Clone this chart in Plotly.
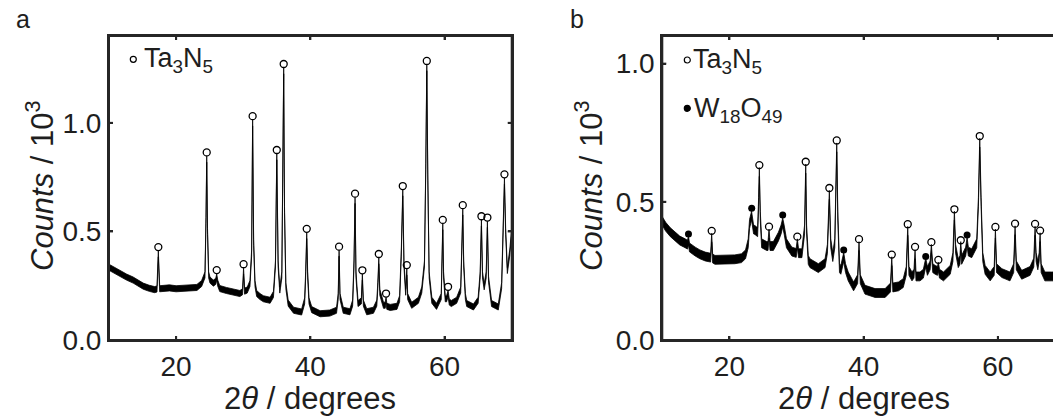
import plotly.graph_objects as go

# ---------------- data ----------------
two_theta_a = [10.0, 10.8, 11.6, 12.6, 13.6, 14.4, 15.1, 16.0, 16.8, 17.15, 17.35, 17.55, 18.1, 19.0, 20.0, 21.0,
               22.0, 23.1, 23.8, 24.3, 24.45, 24.56, 24.68, 24.85, 25.05, 25.55, 25.9, 26.05, 26.2, 26.5, 27.5,
               28.5, 29.5, 29.9, 30.05, 30.2, 30.6, 31.0, 31.25, 31.4, 31.55, 31.75, 32.0, 32.5, 33.0, 34.0,
               34.5, 34.8, 35.0, 35.2, 35.45, 35.75, 35.9, 36.03, 36.15, 36.35, 36.7, 37.5, 38.7, 39.15, 39.3,
               39.46, 39.6, 39.8, 40.2, 41.45, 42.9, 43.9, 44.15, 44.28, 44.42, 44.9, 45.9, 46.3, 46.5, 46.66,
               46.8, 47.1, 47.6, 47.75, 47.9, 48.4, 49.4, 49.9, 50.05, 50.2, 50.35, 50.9, 51.15, 51.28, 51.4,
               51.9, 52.9, 53.3, 53.55, 53.77, 53.95, 54.2, 54.37, 54.5, 55.1, 56.1, 56.6, 57.0, 57.2, 57.35,
               57.5, 57.7, 58.1, 58.8, 59.5, 59.6, 59.73, 59.85, 60.1, 60.3, 60.52, 60.7, 61.0, 61.8, 62.4,
               62.55, 62.71, 62.85, 63.1, 63.3, 64.3, 65.0, 65.3, 65.49, 65.65, 65.9, 66.2, 66.38, 66.55, 67.0,
               68.0, 68.5, 68.75, 68.92, 69.1, 69.35, 69.7, 70.0]
counts_a = [0.335, 0.32, 0.307, 0.29, 0.276, 0.26, 0.248, 0.238, 0.232, 0.235, 0.397, 0.236, 0.237, 0.24, 0.236,
            0.238, 0.24, 0.242, 0.26, 0.3, 0.55, 0.833, 0.5, 0.3, 0.276, 0.262, 0.27, 0.29, 0.262, 0.237, 0.228,
            0.221, 0.214, 0.222, 0.318, 0.225, 0.23, 0.26, 0.4, 1.0, 0.45, 0.26, 0.214, 0.2, 0.19, 0.183,
            0.21, 0.35, 0.844, 0.35, 0.23, 0.3, 0.7, 1.24, 0.6, 0.25, 0.17, 0.137, 0.129, 0.18, 0.3,
            0.481, 0.3, 0.18, 0.14, 0.121, 0.124, 0.137, 0.2, 0.40, 0.2, 0.137, 0.13, 0.17, 0.35, 0.643,
            0.3, 0.168, 0.18, 0.29, 0.17, 0.13, 0.137, 0.17, 0.25, 0.365, 0.22, 0.16, 0.16, 0.183, 0.155,
            0.15, 0.155, 0.19, 0.4, 0.678, 0.35, 0.22, 0.314, 0.2, 0.16, 0.183, 0.23, 0.35, 0.8, 1.254,
            0.75, 0.3, 0.183, 0.155, 0.2, 0.35, 0.522, 0.3, 0.19, 0.19, 0.214, 0.175, 0.168, 0.183, 0.23,
            0.4, 0.59, 0.35, 0.2, 0.168, 0.152, 0.183, 0.3, 0.539, 0.3, 0.245, 0.3, 0.533, 0.28, 0.168,
            0.152, 0.25, 0.5, 0.732, 0.5, 0.32, 0.4, 0.5]

two_theta_b = [10.0, 10.5, 11.2, 11.9, 12.6, 13.4, 13.75, 13.9, 14.05, 14.9, 15.6, 16.4, 17.2, 17.36, 17.5, 17.85,
               18.8, 19.8, 20.8, 21.8, 22.4, 22.8, 23.0, 23.3, 23.6, 23.8, 24.2, 24.35, 24.46, 24.6, 24.8, 25.55,
               25.75, 25.9, 26.05, 26.55, 27.3, 27.7, 27.94, 28.15, 28.5, 29.3, 29.95, 30.12, 30.3, 30.8, 31.2,
               31.37, 31.5, 31.75, 32.0, 33.25, 34.25, 34.6, 34.89, 35.1, 35.4, 35.7, 35.85, 35.99, 36.15, 36.4,
               36.6, 37.03, 37.3, 37.7, 38.5, 39.1, 39.31, 39.5, 40.2, 41.7, 43.2, 44.0, 44.19, 44.35, 45.2,
               45.9, 46.35, 46.57, 46.75, 47.2, 47.5, 47.66, 47.8, 48.4, 48.9, 49.25, 49.5, 49.9, 50.09, 50.3,
               50.65, 51.0, 51.13, 51.3, 51.9, 52.9, 53.3, 53.52, 53.7, 54.1, 54.35, 54.47, 54.6, 54.85, 55.2,
               55.41, 55.6, 56.1, 56.85, 57.1, 57.3, 57.5, 57.75, 58.1, 58.85, 59.45, 59.63, 59.8, 60.6, 61.8,
               62.35, 62.56, 62.75, 63.55, 64.8, 65.35, 65.54, 65.7, 65.95, 66.15, 66.29, 66.45, 67.0, 68.0, 70.0]
counts_b = [0.43, 0.41, 0.39, 0.374, 0.36, 0.35, 0.345, 0.36, 0.335, 0.32, 0.31, 0.302, 0.298, 0.37, 0.295, 0.29,
            0.29, 0.29, 0.292, 0.296, 0.31, 0.35, 0.42, 0.45, 0.4, 0.398, 0.39, 0.5, 0.608, 0.45, 0.35, 0.34,
            0.34, 0.385, 0.34, 0.34, 0.374, 0.4, 0.425, 0.4, 0.35, 0.32, 0.315, 0.35, 0.314, 0.314, 0.4,
            0.62, 0.4, 0.29, 0.278, 0.26, 0.278, 0.33, 0.525, 0.35, 0.3, 0.35, 0.55, 0.697, 0.45, 0.26,
            0.254, 0.30, 0.26, 0.23, 0.194, 0.22, 0.34, 0.22, 0.182, 0.17, 0.17, 0.19, 0.285, 0.19, 0.194,
            0.206, 0.25, 0.395, 0.25, 0.23, 0.24, 0.31, 0.23, 0.23, 0.24, 0.28, 0.25, 0.27, 0.33, 0.26,
            0.254, 0.25, 0.265, 0.24, 0.23, 0.254, 0.3, 0.45, 0.33, 0.278, 0.29, 0.34, 0.29, 0.302, 0.32,
            0.355, 0.32, 0.314, 0.35, 0.5, 0.714, 0.5, 0.3, 0.254, 0.23, 0.25, 0.385, 0.26, 0.242, 0.23,
            0.26, 0.397, 0.27, 0.236, 0.25, 0.28, 0.395, 0.3, 0.27, 0.3, 0.372, 0.26, 0.23, 0.23, 0.23]

ta3n5_a_x = [17.35, 24.56, 26.05, 30.05, 31.4, 35.0, 36.03, 39.46, 44.28, 46.66, 47.75, 50.2, 51.28, 53.77,
             54.37, 57.35, 59.73, 60.52, 62.71, 65.49, 66.38, 68.92]
ta3n5_a_y = [0.428, 0.864, 0.322, 0.349, 1.031, 0.875, 1.271, 0.512, 0.43, 0.674, 0.321, 0.396, 0.214, 0.709,
             0.345, 1.285, 0.553, 0.245, 0.621, 0.57, 0.564, 0.763]

ta3n5_b_x = [17.36, 24.46, 25.9, 30.12, 31.37, 34.89, 35.99, 39.31, 44.19, 46.57, 47.66, 50.09, 51.13, 53.52,
             54.47, 57.3, 59.63, 62.56, 65.54, 66.29]
ta3n5_b_y = [0.395, 0.633, 0.41, 0.374, 0.645, 0.55, 0.722, 0.365, 0.309, 0.419, 0.337, 0.354, 0.29, 0.473,
             0.361, 0.738, 0.409, 0.421, 0.42, 0.396]

w18o49_b_x = [13.9, 23.32, 27.94, 37.03, 49.25, 55.41]
w18o49_b_y = [0.384, 0.477, 0.452, 0.326, 0.302, 0.38]

x_ticks = [20, 40, 60]
y_ticks = [0.0, 0.5, 1.0]
y_tick_text = ["0.0", "0.5", "1.0"]

# ---------------- layout constants ----------------
W, H = 1053, 418
TOP, BOT = 36, 340          # plot area in pixels
FONT = "Arial, Liberation Sans, sans-serif"
TXT = "#1e1e1e"
AX = "#262626"
TICK_SIZE = 28
TITLE_SIZE = 31
LEG_SIZE = 27


def pxx(px):
    return px / W


def pxy(py):
    return (BOT - py) / (BOT - TOP)


fig = go.Figure()


def add_pattern(x, y, half, xa, ya):
    lower = [v - half for v in y]
    upper = [v + half for v in y]
    fig.add_trace(go.Scatter(x=x, y=lower, mode="lines", line=dict(color="black", width=0.8),
                             xaxis=xa, yaxis=ya, showlegend=False, hoverinfo="skip"))
    fig.add_trace(go.Scatter(x=x, y=upper, mode="lines", line=dict(color="black", width=0.8),
                             fill="tonexty", fillcolor="black",
                             xaxis=xa, yaxis=ya, showlegend=False, hoverinfo="skip"))


add_pattern(two_theta_a, counts_a, 0.014, "x", "y")
add_pattern(two_theta_b, counts_b, 0.016, "x2", "y2")

open_marker = dict(symbol="circle-open", size=7, color="black", line=dict(width=1.3, color="black"))
filled_marker = dict(symbol="circle", size=7, color="black")

fig.add_trace(go.Scatter(x=ta3n5_a_x, y=ta3n5_a_y, mode="markers", marker=open_marker,
                         xaxis="x", yaxis="y", showlegend=False, hoverinfo="skip"))
fig.add_trace(go.Scatter(x=ta3n5_b_x, y=ta3n5_b_y, mode="markers", marker=open_marker,
                         xaxis="x2", yaxis="y2", showlegend=False, hoverinfo="skip"))
fig.add_trace(go.Scatter(x=w18o49_b_x, y=w18o49_b_y, mode="markers", marker=filled_marker,
                         xaxis="x2", yaxis="y2", showlegend=False, hoverinfo="skip"))

xa0, xa1 = 109, 511.7
xb0 = 662.3
px_per_deg = (xa1 - xa0) / 60.0
xb_end = 10 + (W - xb0) / px_per_deg

common_x = dict(ticks="inside", ticklen=4, tickwidth=2, tickcolor=AX, showline=True, linewidth=2,
                linecolor=AX, showgrid=False, zeroline=False, tickvals=x_ticks,
                tickfont=dict(family=FONT, size=TICK_SIZE, color=TXT), mirror="ticks")
common_y = dict(ticks="inside", ticklen=4, tickwidth=2, tickcolor=AX, showline=True, linewidth=2,
                linecolor=AX, showgrid=False, zeroline=False, tickvals=y_ticks, ticktext=y_tick_text,
                tickfont=dict(family=FONT, size=TICK_SIZE, color=TXT))

fig.update_layout(
    width=W, height=H, margin=dict(l=0, r=0, t=TOP, b=H - BOT),
    paper_bgcolor="white", plot_bgcolor="white", showlegend=False,
    xaxis=dict(domain=[pxx(xa0), pxx(xa1)], range=[10, 70], anchor="y", **common_x),
    yaxis=dict(domain=[0, 1], range=[0, 1.4], anchor="x", mirror="ticks", **common_y),
    xaxis2=dict(domain=[pxx(xb0), 1.0], range=[10, xb_end], anchor="y2", **common_x),
    yaxis2=dict(domain=[0, 1], range=[0, 1.1], anchor="x2", mirror=False, ticksuffix=" ", **common_y),
)

ann = []
shapes = []
line_style = dict(color=AX, width=2)

# frame drawn explicitly (panel b is cut at the right edge)
shapes.append(dict(type="rect", xref="x domain", yref="y domain", x0=0, x1=1, y0=0, y1=1, line=line_style))
for (a, b, c, d) in [(0, 0, 0, 1), (0, 0, 1, 0), (0, 1, 1, 1)]:
    shapes.append(dict(type="line", xref="x2 domain", yref="y2 domain", x0=a, y0=b, x1=c, y1=d,
                       line=line_style))

# inside tick marks
TL = 4
for xr, yr, sides_x, sides_y in [("x", "y", (0, 1), (0, 1)), ("x2", "y2", (0, 1), (0,))]:
    for t in x_ticks:
        for side in sides_x:
            shapes.append(dict(type="line", xref=xr, yref=yr + " domain", ysizemode="pixel", yanchor=side,
                               x0=t, x1=t, y0=0, y1=TL if side == 0 else -TL, line=line_style))
    for t in y_ticks[1:]:
        for side in sides_y:
            shapes.append(dict(type="line", xref=xr + " domain", yref=yr, xsizemode="pixel", xanchor=side,
                               y0=t, y1=t, x0=0, x1=TL if side == 0 else -TL, line=line_style))


def text(px, py, s, size, xanchor="left", yanchor="middle", angle=0):
    ann.append(dict(x=pxx(px), y=pxy(py), xref="paper", yref="paper", text=s, showarrow=False,
                    xanchor=xanchor, yanchor=yanchor, textangle=angle,
                    font=dict(family=FONT, size=size, color=TXT)))


def dot(px, py, filled):
    shapes.append(dict(type="circle", xref="paper", yref="paper", xsizemode="pixel", ysizemode="pixel",
                       xanchor=pxx(px), yanchor=pxy(py), x0=-3, x1=3, y0=-3, y1=3,
                       line=dict(color="black", width=1.2),
                       fillcolor="black" if filled else "white"))


# panel letters
text(14, 19, "a", 25)
text(568, 19, "b", 25)

# axis titles
text((xa0 + xa1) / 2, 398, "2<i>θ</i> / degrees", TITLE_SIZE, xanchor="center")
text((xb0 + xb0 + 60 * px_per_deg) / 2, 398, "2<i>θ</i> / degrees", TITLE_SIZE, xanchor="center")
text(40, 186, "<i>Counts</i> / 10<sup>3</sup>", TITLE_SIZE, xanchor="center", angle=-90)
text(589, 186, "<i>Counts</i> / 10<sup>3</sup>", TITLE_SIZE, xanchor="center", angle=-90)

# legends
dot(133.3, 59.3, False)
text(142, 60, "Ta<sub>3</sub>N<sub>5</sub>", LEG_SIZE)
dot(687.3, 60, False)
text(691, 61, "Ta<sub>3</sub>N<sub>5</sub>", LEG_SIZE)
dot(687.3, 108.3, True)
text(692, 110, "W<sub>18</sub>O<sub>49</sub>", LEG_SIZE)

fig.update_layout(annotations=ann, shapes=shapes)

fig.write_html("out.html", config={"displayModeBar": False, "staticPlot": True},
               post_script="document.body.style.margin='0px';")
